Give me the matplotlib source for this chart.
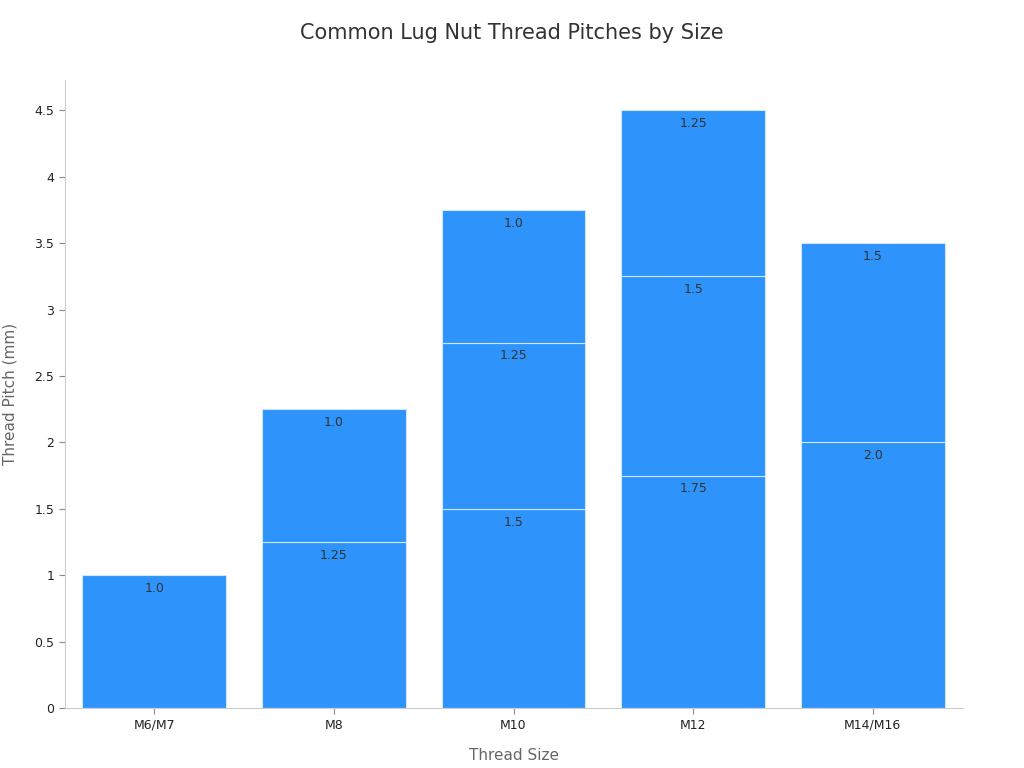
import numpy as np
import matplotlib
matplotlib.use('Agg')
import matplotlib.pyplot as plt

sizes = ['M6/M7', 'M8', 'M10', 'M12', 'M14/M16']
# pitches stacked bottom to top for each size
pitches = [[1.0], [1.25, 1.0], [1.5, 1.25, 1.0], [1.75, 1.5, 1.25], [2.0, 1.5]]
yticks = [0, 0.5, 1, 1.5, 2, 2.5, 3, 3.5, 4, 4.5]
ytick_labels = ['0', '0.5', '1', '1.5', '2', '2.5', '3', '3.5', '4', '4.5']

fig = plt.figure(figsize=(10.24, 7.68), dpi=100)
ax = fig.add_axes([0.063, 0.078, 0.877, 0.818])

for i, stack in enumerate(pitches):
    bottom = 0
    for p in stack:
        ax.bar(i, p, bottom=bottom, width=0.8, color='#2E93FA', edgecolor='#cfe6ff', linewidth=0.8)
        ax.text(i, bottom + p - 0.05, str(p), ha='center', va='top', fontsize=9, color='#333333')
        bottom += p

ax.set_xlim(-0.5, 4.5)
ax.set_ylim(0, 4.73)
ax.set_xticks(range(len(sizes)))
ax.set_xticklabels(sizes, fontsize=9, color='#222222')
ax.set_yticks(yticks)
ax.set_yticklabels(ytick_labels, fontsize=9, color='#222222')
for s in ['top', 'right']:
    ax.spines[s].set_visible(False)
for s in ['left', 'bottom']:
    ax.spines[s].set_color('#cccccc')
ax.tick_params(colors='#888888', labelcolor='#222222', length=4)
ax.set_xlabel('Thread Size', fontsize=11, color='#666666', labelpad=12)
ax.set_ylabel('Thread Pitch (mm)', fontsize=11, color='#666666', labelpad=12)
fig.text(0.5, 0.957, 'Common Lug Nut Thread Pitches by Size', ha='center', va='center', fontsize=15, color='#333333')

fig.savefig('out.png', dpi=100)
